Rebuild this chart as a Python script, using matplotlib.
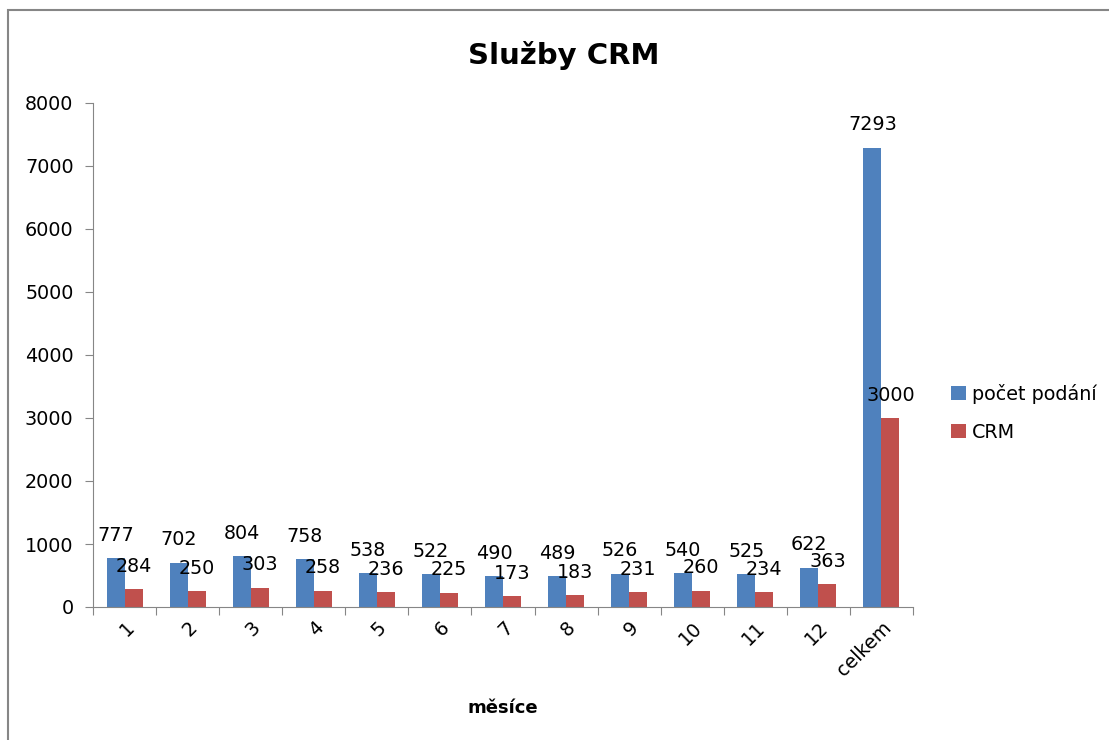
import numpy as np
import matplotlib
matplotlib.use('Agg')
import matplotlib.pyplot as plt
from matplotlib.patches import Rectangle

categories = ['1', '2', '3', '4', '5', '6', '7', '8', '9', '10', '11', '12', 'celkem']
podani     = [777, 702, 804, 758, 538, 522, 490, 489, 526, 540, 525, 622, 7293]
crm        = [284, 250, 303, 258, 236, 225, 173, 183, 231, 260, 234, 363, 3000]

plt.rcParams['font.family'] = ['DejaVu Sans']
BLUE, RED, GREY = '#4F81BD', '#C0504D', '#868686'
FS = 13.8

fig = plt.figure(figsize=(11.09, 7.40), dpi=100)
ax  = fig.add_axes([93/1109, 1 - 607/740, 820/1109, 504/740])

x = np.arange(len(categories))
w = 18 / 63  # Excel gap width 150%
b1 = ax.bar(x - w/2, podani, w, color=BLUE, label='počet podání')
b2 = ax.bar(x + w/2, crm,    w, color=RED,  label='CRM')

for bars, vals in ((b1, podani), (b2, crm)):
    for bar, v in zip(bars, vals):
        ax.annotate(f'{v}', (bar.get_x() + bar.get_width()/2, v),
                    xytext=(0, 16.5), textcoords='offset points',
                    ha='center', va='center', fontsize=FS, color='black')

ax.set_xlim(-0.5, len(categories) - 0.5)
ax.set_ylim(0, 8000)
ax.set_yticks(np.arange(0, 8001, 1000))
ax.tick_params(axis='y', labelsize=FS, length=6, color=GREY, pad=8)

ax.set_xticks(np.arange(-0.5, len(categories)), labels=[''] * (len(categories) + 1))
ax.set_xticks(x, labels=categories, minor=True)
ax.tick_params(axis='x', which='major', length=6, color=GREY)
ax.tick_params(axis='x', which='minor', length=0, labelsize=FS, pad=8)
for lab in ax.get_xticklabels(minor=True):
    lab.set_rotation(45)
    lab.set_ha('right')
    lab.set_rotation_mode('anchor')

for s in ('top', 'right'):
    ax.spines[s].set_visible(False)
for s in ('left', 'bottom'):
    ax.spines[s].set_color(GREY)

ax.set_xlabel('měsíce', fontsize=FS - 0.8, fontweight='bold')
ax.xaxis.set_label_coords(410/820, -(699 - 607)/504)
fig.text(0.508, 1 - 55/740, 'Služby CRM', ha='center', va='center',
         fontsize=21, fontweight='bold')

ax.legend(loc='center left', bbox_to_anchor=(934/1109, 1 - 413/740),
          bbox_transform=fig.transFigure, frameon=False, fontsize=FS,
          handlelength=0.75, handleheight=0.75, handletextpad=0.35, labelspacing=1.0)

fig.patches.append(Rectangle((8/1109, -0.1), 1.1, 1 - 10/740 + 0.1,
                             transform=fig.transFigure, fill=False,
                             edgecolor=GREY, linewidth=1.5))

fig.savefig('out.png', dpi=100)
